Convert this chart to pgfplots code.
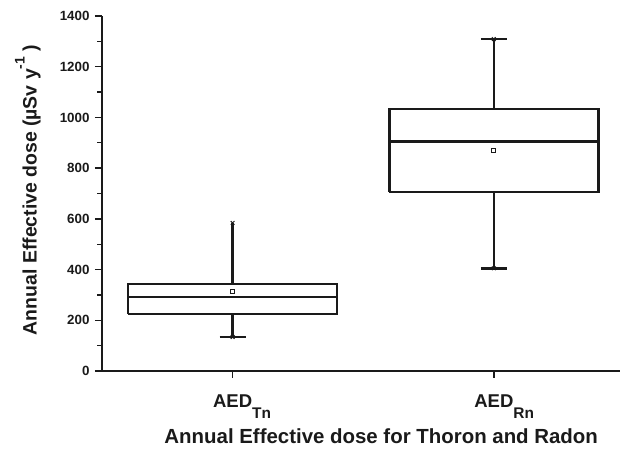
\documentclass[border=0pt]{standalone}
\usepackage{fontspec}
\setmainfont{Liberation Sans}
\usepackage{pgfplots}
\pgfplotsset{compat=1.18}
\definecolor{ink}{HTML}{1A1A1A}
\begin{document}
\begin{tikzpicture}
\begin{axis}[
  at={(0,0)}, anchor=south west,
  scale only axis, width=518bp, height=355bp,
  xmin=0.5, xmax=2.483, ymin=0, ymax=1400,
  axis lines=left,
  axis line style={-, line width=1.6bp, ink},
  ytick={0,200,...,1400}, minor y tick num=1,
  xtick={1,2},
  xticklabels={AED\rlap{\raisebox{-11bp}{\fontsize{15.5}{16}\selectfont Tn}},AED\rlap{\raisebox{-11bp}{\fontsize{15.5}{16}\selectfont Rn}}},
  tick align=outside, major tick length=7bp, minor tick length=4.5bp,
  every tick/.style={line width=1.4bp, ink},
  /pgf/number format/assume math mode=true,
  /pgf/number format/1000 sep={},
  yticklabel style={font=\bfseries\fontsize{13.4}{15}\selectfont, text=ink, xshift=-2bp},
  xticklabel style={font=\bfseries\fontsize{18.6}{20}\selectfont, text=ink, anchor=base, yshift=-29bp},
  xlabel={Annual Effective dose for Thoron and Radon},
  ylabel={Annual Effective dose (µSv y\raisebox{0.62em}{\fontsize{14}{14}\selectfont -1} )},
  xlabel style={at={(axis description cs:0.539,-0.2056)}, anchor=base, font=\bfseries\fontsize{20.5}{22}\selectfont, text=ink},
  ylabel style={at={(axis description cs:-0.143,0.51)}, anchor=center, font=\bfseries\fontsize{19.5}{22}\selectfont, text=ink},
  clip=false,
]
% AED_Tn box: q1=225, median=292, q3=343, min=134, max=584, mean=315
\addplot[draw=ink, line width=2.6bp, no marks] coordinates {(0.6,225) (1.4,225) (1.4,343) (0.6,343) (0.6,225)};
\addplot[draw=ink, line width=2.6bp, no marks] coordinates {(0.6,292) (1.4,292)};
\addplot[draw=ink, line width=2.6bp, no marks] coordinates {(1,343) (1,584)};
\addplot[draw=ink, line width=2.6bp, no marks] coordinates {(1,225) (1,134)};
\addplot[draw=ink, line width=2.6bp, no marks] coordinates {(0.95,134) (1.05,134)};
% AED_Rn box: q1=706, median=906, q3=1033, min=405, max=1309, mean=871
\addplot[draw=ink, line width=2.6bp, no marks] coordinates {(1.6,706) (2.4,706) (2.4,1033) (1.6,1033) (1.6,706)};
\addplot[draw=ink, line width=2.6bp, no marks] coordinates {(1.6,906) (2.4,906)};
\addplot[draw=ink, line width=2.6bp, no marks] coordinates {(2,1033) (2,1309)};
\addplot[draw=ink, line width=2.6bp, no marks] coordinates {(2,706) (2,405)};
\addplot[draw=ink, line width=2.6bp, no marks] coordinates {(1.95,405) (2.05,405)};
\addplot[draw=ink, line width=2.6bp, no marks] coordinates {(1.95,1309) (2.05,1309)};
% means
\addplot[only marks, mark=square, mark size=2bp, mark options={line width=0.9bp, draw=ink, fill=white}]
  coordinates {(1,315) (2,871)};
% min / max markers
\addplot[only marks, mark=x, mark size=2.6bp, mark options={line width=1bp, draw=ink}]
  coordinates {(1,134) (1,584) (2,405) (2,1309)};
\end{axis}
\pgfresetboundingbox
\path[use as bounding box] (-102bp,-81bp) rectangle (518bp,371bp);
\end{tikzpicture}
\end{document}
